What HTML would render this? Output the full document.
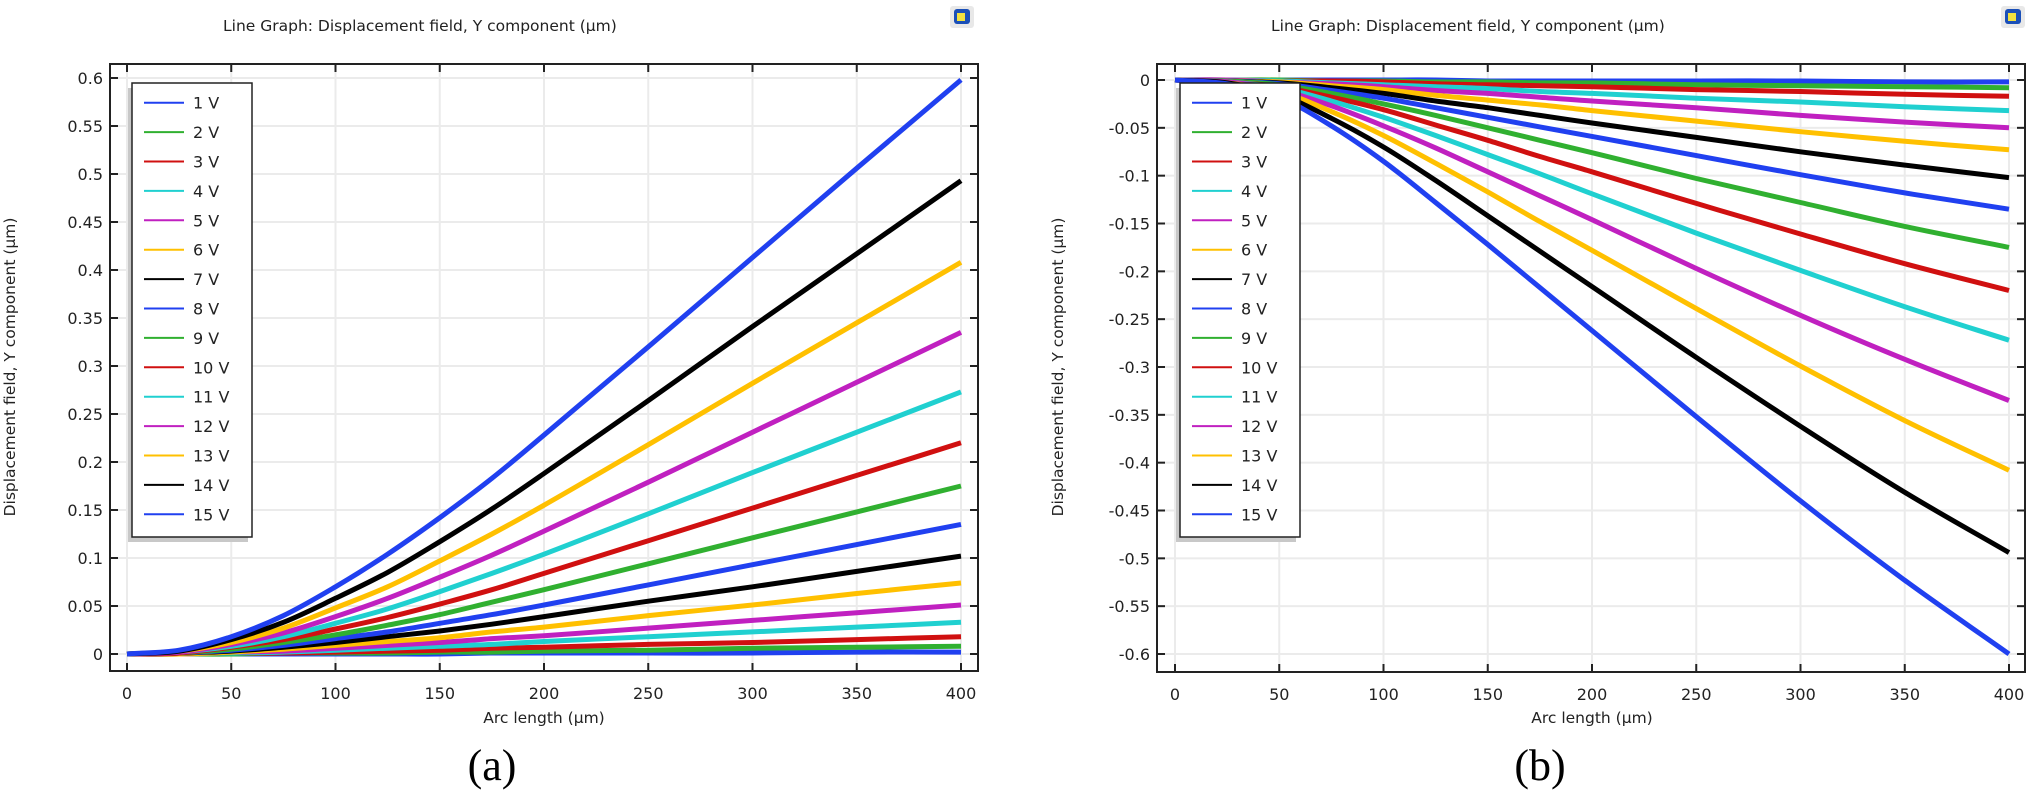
<!DOCTYPE html>
<html><head><meta charset="utf-8"><style>
html,body{margin:0;padding:0;background:#fff;}
svg{display:block;font-family:"DejaVu Sans","Liberation Sans",sans-serif;}
</style></head><body>
<svg id="root" width="2029" height="796" viewBox="0 0 2029 796" xmlns="http://www.w3.org/2000/svg"></svg>
<script>
const xs = [0,25,50,75,100,125,150,175,200,250,300,350,400];
const labels = ["1 V","2 V","3 V","4 V","5 V","6 V","7 V","8 V","9 V","10 V","11 V","12 V","13 V","14 V","15 V"];
const colors = ["#2040f0","#30b030","#d01010","#20d0d0","#c020c0","#ffc000","#000000","#2040f0","#30b030","#d01010","#20d0d0","#c020c0","#ffc000","#000000","#2040f0"];
const xTicks = [0,50,100,150,200,250,300,350,400];
const yTicksA = [0,0.05,0.1,0.15,0.2,0.25,0.3,0.35,0.4,0.45,0.5,0.55,0.6];
const yTickLabelsA = ["0","0.05","0.1","0.15","0.2","0.25","0.3","0.35","0.4","0.45","0.5","0.55","0.6"];
const yTicksB = [0,-0.05,-0.1,-0.15,-0.2,-0.25,-0.3,-0.35,-0.4,-0.45,-0.5,-0.55,-0.6];
const yTickLabelsB = ["0","-0.05","-0.1","-0.15","-0.2","-0.25","-0.3","-0.35","-0.4","-0.45","-0.5","-0.55","-0.6"];
const seriesA = [
[0,0,0,0,0,0,0,.001,.001,.001,.001,.002,.002],
[0,0,0,.001,.001,.001,.002,.002,.003,.004,.006,.007,.008],
[0,0,.001,.001,.002,.003,.004,.006,.007,.010,.012,.015,.018],
[0,0,.001,.002,.004,.006,.008,.010,.013,.018,.023,.028,.033],
[0,0,.002,.003,.006,.009,.012,.016,.019,.027,.035,.043,.051],
[0,0,.002,.005,.009,.013,.017,.023,.028,.040,.051,.063,.074],
[0,.001,.003,.007,.012,.018,.024,.031,.039,.055,.070,.086,.102],
[0,.001,.004,.009,.016,.023,.032,.041,.051,.072,.093,.114,.135],
[0,.001,.005,.012,.020,.030,.041,.054,.067,.094,.121,.148,.175],
[0,.001,.007,.015,.026,.038,.052,.067,.084,.118,.152,.186,.220],
[0,.002,.008,.018,.032,.047,.065,.084,.104,.146,.189,.231,.273],
[0,.002,.010,.022,.039,.058,.080,.103,.128,.179,.231,.283,.335],
[0,.003,.012,.027,.048,.070,.097,.125,.155,.218,.282,.345,.408],
[0,.003,.015,.033,.058,.085,.117,.151,.188,.264,.341,.417,.493],
[0,.004,.018,.040,.070,.104,.142,.183,.228,.320,.413,.506,.598]];
const seriesB = [
[0,0,0,0,0,0,-.001,-.001,-.001,-.001,-.001,-.002,-.002],
[0,0,0,-.001,-.001,-.002,-.002,-.003,-.003,-.005,-.006,-.007,-.008],
[0,0,-.001,-.001,-.002,-.004,-.005,-.006,-.007,-.010,-.012,-.015,-.017],
[0,0,-.001,-.003,-.005,-.007,-.009,-.012,-.014,-.019,-.023,-.028,-.032],
[0,0,-.002,-.004,-.007,-.011,-.014,-.018,-.022,-.029,-.037,-.044,-.050],
[0,-.001,-.002,-.006,-.010,-.016,-.021,-.026,-.032,-.043,-.054,-.064,-.073],
[0,-.001,-.003,-.008,-.014,-.022,-.029,-.037,-.045,-.060,-.075,-.089,-.102],
[0,-.001,-.004,-.011,-.019,-.029,-.039,-.049,-.059,-.079,-.099,-.118,-.135],
[0,-.001,-.005,-.014,-.025,-.037,-.050,-.063,-.076,-.103,-.128,-.153,-.175],
[0,-.002,-.007,-.018,-.031,-.047,-.063,-.080,-.096,-.129,-.161,-.192,-.220],
[0,-.002,-.008,-.022,-.039,-.058,-.078,-.098,-.119,-.160,-.199,-.237,-.272],
[0,-.002,-.010,-.027,-.048,-.071,-.096,-.121,-.146,-.197,-.246,-.292,-.335],
[0,-.003,-.012,-.033,-.058,-.087,-.117,-.148,-.178,-.239,-.299,-.356,-.408],
[0,-.003,-.015,-.040,-.070,-.105,-.142,-.179,-.216,-.290,-.362,-.431,-.494],
[0,-.004,-.018,-.048,-.085,-.128,-.172,-.217,-.262,-.352,-.440,-.523,-.600]];

const NS = "http://www.w3.org/2000/svg";
const root = document.getElementById('root');
function mk(tag, attrs, parent, text){
  const e = document.createElementNS(NS, tag);
  for (const k in attrs) e.setAttribute(k, attrs[k]);
  if (text !== undefined) e.textContent = text;
  (parent||root).appendChild(e);
  return e;
}
function smoothPath(P){
  const n = P.length;
  const m = P.map((p, i) => {
    const a = P[Math.max(0, i-1)], b = P[Math.min(n-1, i+1)];
    return (b[1]-a[1]) / (b[0]-a[0]);
  });
  let d = 'M' + P[0][0].toFixed(1) + ',' + P[0][1].toFixed(1);
  for (let i = 0; i < n - 1; i++){
    const p1 = P[i], p2 = P[i+1], dx = (p2[0]-p1[0]) / 3;
    d += ' C' + (p1[0]+dx).toFixed(1) + ',' + (p1[1]+m[i]*dx).toFixed(1) + ' ' + (p2[0]-dx).toFixed(1) + ',' + (p2[1]-m[i+1]*dx).toFixed(1) + ' ' + p2[0].toFixed(1) + ',' + p2[1].toFixed(1);
  }
  return d;
}

function drawChart(cfg){
  const g = mk('g', {});
  
  
  const sx = v => cfg.x0 + (v - 0) * (cfg.x400 - cfg.x0) / 400;
  const sy = v => cfg.yZero + (v - 0) * (cfg.yEnd - cfg.yZero) / cfg.endVal;
  const t = mk('text', {x: cfg.titleX, y: 31, 'font-size': 15.5, fill: '#222'}, g, 'Line Graph: Displacement field, Y component (µm)');
  
  
  const ic = mk('g', {}, g);
  
  
  mk('rect', {x: cfg.iconX-2, y: 6, width: 24, height: 22, rx: 3, fill: '#e8e8e8'}, ic);
  mk('rect', {x: cfg.iconX+2, y: 9, width: 16, height: 15, rx: 3, fill: '#1a4fb8'}, ic);
  mk('rect', {x: cfg.iconX+5, y: 13, width: 8, height: 8, fill: '#f0e040'}, ic);
  xTicks.forEach(v => {
    const l = mk('line', {x1: sx(v), x2: sx(v), y1: cfg.top, y2: cfg.bottom, stroke: '#ebebeb', 'stroke-width': 2}, g);
    
    
  });
  cfg.yTicks.forEach(v => {
    const l = mk('line', {x1: cfg.left, x2: cfg.right, y1: sy(v), y2: sy(v), stroke: '#ebebeb', 'stroke-width': 2}, g);
    
    
  });
  cfg.series.forEach((vals, i) => {
    const P = vals.map((v, j) => [sx(xs[j]), sy(v)]);
    const p = mk('path', {d: smoothPath(P), fill: 'none', stroke: colors[i], 'stroke-width': 5, 'stroke-linejoin': 'round'}, g);
    
    
  });
  const fr = mk('rect', {x: cfg.left, y: cfg.top, width: cfg.right-cfg.left, height: cfg.bottom-cfg.top, fill: 'none', stroke: '#222', 'stroke-width': 2}, g);
  
  
  xTicks.forEach(v => {
    mk('line', {x1: sx(v), x2: sx(v), y1: cfg.bottom, y2: cfg.bottom-8, stroke: '#222', 'stroke-width': 2}, g);
    mk('line', {x1: sx(v), x2: sx(v), y1: cfg.top, y2: cfg.top+8, stroke: '#222', 'stroke-width': 2}, g);
    const tl = mk('text', {x: sx(v), y: cfg.bottom+28, 'font-size': 16, 'text-anchor': 'middle', fill: '#222'}, g, String(v));
    
    
  });
  cfg.yTicks.forEach((v, i) => {
    mk('line', {x1: cfg.left, x2: cfg.left+8, y1: sy(v), y2: sy(v), stroke: '#222', 'stroke-width': 2}, g);
    mk('line', {x1: cfg.right, x2: cfg.right-8, y1: sy(v), y2: sy(v), stroke: '#222', 'stroke-width': 2}, g);
    const tl = mk('text', {x: cfg.left-7, y: sy(v)+6, 'font-size': 16, 'text-anchor': 'end', fill: '#222'}, g, cfg.yLabels[i]);
    
    
  });
  const xt = mk('text', {x: (sx(0)+sx(400))/2, y: 723, 'font-size': 15.5, 'text-anchor': 'middle', fill: '#222'}, g, 'Arc length (µm)');
  
  
  const yt = mk('text', {x: 0, y: 0, 'font-size': 15.5, 'text-anchor': 'middle', fill: '#222', transform: 'translate(' + cfg.yTitleX + ',367) rotate(-90)'}, g, 'Displacement field, Y component (µm)');
  
  
  const lg = mk('g', {}, g);
  
  
  mk('rect', {x: cfg.legX-4, y: 88, width: 120, height: 454, fill: '#c8c8c8'}, lg);
  mk('rect', {x: cfg.legX, y: 83, width: 120, height: 454, fill: '#fff', stroke: '#222', 'stroke-width': 1.5}, lg);
  labels.forEach((lab, i) => {
    const e = mk('g', {}, lg);
    
    
    const y = 102.7 + i * 29.4;
    mk('line', {x1: cfg.legX+12, x2: cfg.legX+52, y1: y, y2: y, stroke: colors[i], 'stroke-width': 2}, e);
    mk('text', {x: cfg.legX+61, y: y+6, 'font-size': 16, fill: '#222'}, e, lab);
  });
  const cap = mk('text', {x: cfg.capX, y: 780, 'font-size': 44, 'text-anchor': 'middle', fill: '#000', 'font-family': '"Liberation Serif", serif'}, g, cfg.caption);
  
  
}

drawChart({name: 'chart-a', left: 110, right: 978, top: 64, bottom: 671, x0: 127, x400: 961,
  yZero: 654, yEnd: 78, endVal: 0.6, yTicks: yTicksA, yLabels: yTickLabelsA, series: seriesA,
  titleX: 223, iconX: 952, yTitleX: 15, legX: 132, capX: 492, caption: '(a)'});
drawChart({name: 'chart-b', left: 1157, right: 2025, top: 64, bottom: 672, x0: 1175, x400: 2009,
  yZero: 80, yEnd: 654, endVal: -0.6, yTicks: yTicksB, yLabels: yTickLabelsB, series: seriesB,
  titleX: 1271, iconX: 2003, yTitleX: 1063, legX: 1180, capX: 1540, caption: '(b)'});
</script>
</body></html>
